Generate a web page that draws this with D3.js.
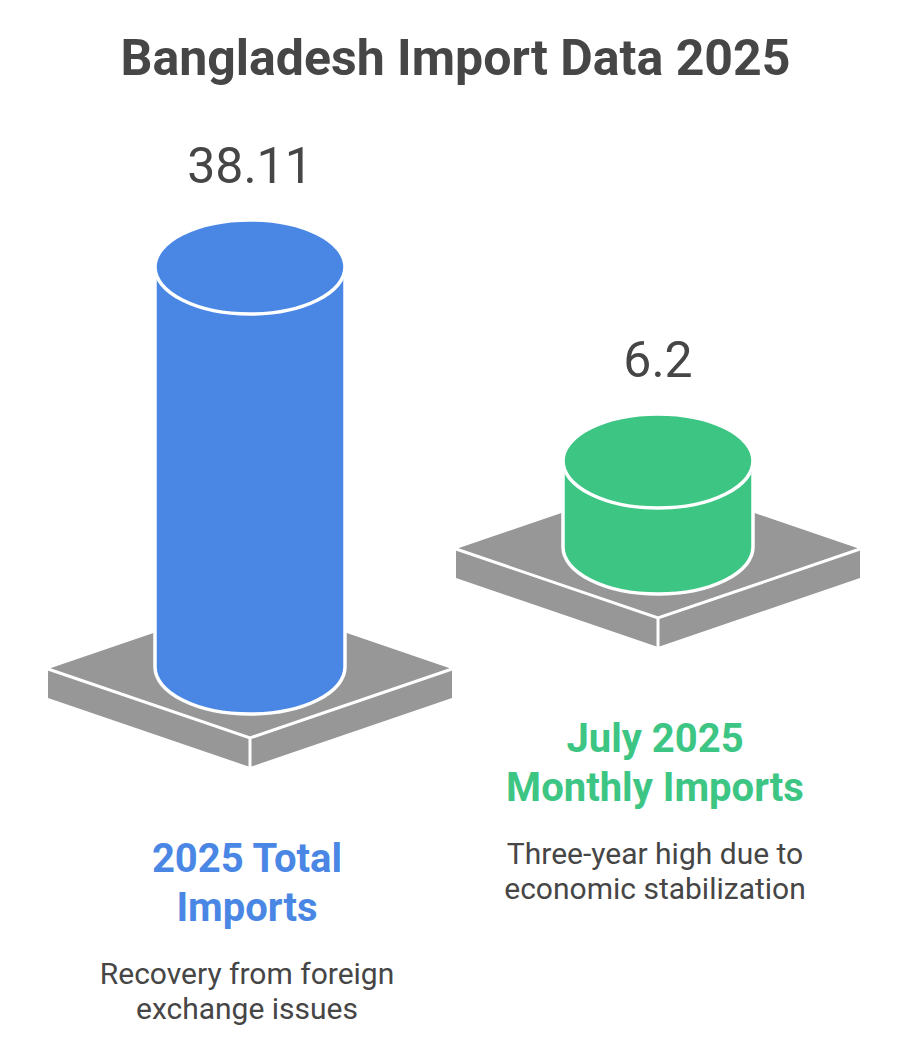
<!DOCTYPE html>
<html>
<head>
<meta charset="utf-8">
<script src="https://cdn.jsdelivr.net/npm/d3@7"></script>
<style>
  body { margin: 0; background: #fff; }
  text { font-family: Roboto, "Noto Sans", sans-serif; }
</style>
</head>
<body>
<svg id="chart" width="911" height="1049"></svg>
<script>
var categories = ["2025 Total Imports", "July 2025 Monthly Imports"];
var labelLines = [["2025 Total", "Imports"], ["July 2025", "Monthly Imports"]];
var values = [38.11, 6.2];
var valueLabels = ["38.11", "6.2"];
var descriptions = [["Recovery from foreign", "exchange issues"],
                    ["Three-year high due to", "economic stabilization"]];
var colors = ["#4a87e5", "#3dc584"];

var svg = d3.select("#chart");
var width = 911;

var textColor = "#464646",
  gray = "#979797",
  rx = 95, ry = 47,           // cylinder ellipse
  pw = 202, pd = 69, pt = 29, // platform half-width, half-depth, thickness
  baseY0 = 669, stepY = 120;

var x = d3.scalePoint()
  .domain(categories)
  .range([250, 658]);

var h = d3.scaleLinear()
  .domain([0, d3.max(values)])
  .range([25, 400]);

svg.append("text")
  .attr("x", width / 2)
  .attr("y", 75)
  .attr("text-anchor", "middle")
  .style("font-size", "50px")
  .style("font-weight", 700)
  .style("fill", textColor)
  .text("Bangladesh Import Data 2025");

var items = categories.map(function(c, i) {
  return { cat: c, value: values[i], label: valueLabels[i], lines: labelLines[i],
    desc: descriptions[i], color: colors[i], cx: x(c), by: baseY0 - i * stepY };
});

var g = svg.selectAll("g.item").data(items)
  .enter().append("g")
  .attr("class", "item");

// platform
g.append("path")
  .attr("d", d => "M" + (d.cx - pw) + "," + d.by + "L" + d.cx + "," + (d.by - pd) +
    "L" + (d.cx + pw) + "," + d.by + "L" + d.cx + "," + (d.by + pd) + "Z")
  .style("fill", gray);
g.append("path")
  .attr("d", d => "M" + (d.cx - pw) + "," + d.by + "L" + d.cx + "," + (d.by + pd) +
    "L" + d.cx + "," + (d.by + pd + pt) + "L" + (d.cx - pw) + "," + (d.by + pt) + "Z")
  .style("fill", gray);
g.append("path")
  .attr("d", d => "M" + (d.cx + pw) + "," + d.by + "L" + d.cx + "," + (d.by + pd) +
    "L" + d.cx + "," + (d.by + pd + pt) + "L" + (d.cx + pw) + "," + (d.by + pt) + "Z")
  .style("fill", gray);
g.append("path")
  .attr("d", d => "M" + (d.cx - pw) + "," + d.by + "L" + d.cx + "," + (d.by + pd) +
    "L" + (d.cx + pw) + "," + d.by + "M" + d.cx + "," + (d.by + pd) + "L" + d.cx + "," + (d.by + pd + pt))
  .style("fill", "none")
  .style("stroke", "#fff")
  .style("stroke-width", 3);

// cylinder body
g.append("path")
  .attr("d", d => {
    var top = d.by - 2 - h(d.value), bot = d.by - 2;
    return "M" + (d.cx - rx) + "," + top + "L" + (d.cx - rx) + "," + bot +
      "A" + rx + "," + ry + " 0 0 0 " + (d.cx + rx) + "," + bot +
      "L" + (d.cx + rx) + "," + top + "Z";
  })
  .style("fill", d => d.color)
  .style("stroke", "#fff")
  .style("stroke-width", 3.5);

// cylinder top
g.append("ellipse")
  .attr("cx", d => d.cx)
  .attr("cy", d => d.by - 2 - h(d.value))
  .attr("rx", rx)
  .attr("ry", ry)
  .style("fill", d => d.color)
  .style("stroke", "#fff")
  .style("stroke-width", 3.5);

// value labels
g.append("text")
  .attr("x", d => d.cx)
  .attr("y", d => d.by - 2 - h(d.value) - ry - 37)
  .attr("text-anchor", "middle")
  .style("font-size", "50px")
  .style("fill", textColor)
  .text(d => d.label);

// category labels
g.each(function(d) {
  var sel = d3.select(this);
  d.lines.forEach(function(line, j) {
    sel.append("text")
      .attr("x", d.cx - 3)
      .attr("y", d.by + 203 + j * 49)
      .attr("text-anchor", "middle")
      .style("font-size", "40px")
      .style("font-weight", 700)
      .style("fill", d.color)
      .text(line);
  });
  d.desc.forEach(function(line, j) {
    sel.append("text")
      .attr("x", d.cx - 3)
      .attr("y", d.by + 315 + j * 35)
      .attr("text-anchor", "middle")
      .style("font-size", "30px")
      .style("fill", textColor)
      .text(line);
  });
});
</script>
</body>
</html>
